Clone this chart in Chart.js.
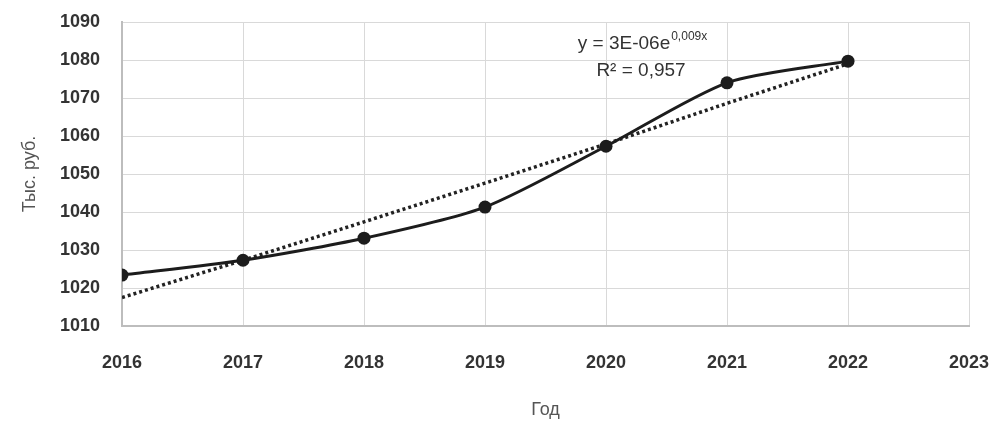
<!DOCTYPE html>
<html>
<head>
<meta charset="utf-8">
<script src="https://cdn.jsdelivr.net/npm/chart.js@4"></script>
<style>
  html, body { margin: 0; padding: 0; background: #fff; }
  #wrap { width: 991px; height: 421px; }
</style>
</head>
<body>
<div id="wrap"><canvas id="chart"></canvas></div>
<script>
// Years and values
const years = [2016, 2017, 2018, 2019, 2020, 2021, 2022];
const values = [1023.4, 1027.3, 1033.1, 1041.3, 1057.3, 1074, 1079.7];
// Dotted trend line, read at each year
const trendYears = [2016, 2017, 2018, 2019, 2020, 2021, 2022];
const trendValues = [1017.5, 1027.3, 1037.4, 1047.6, 1057.9, 1068.6, 1079];
const yTicks = [1010, 1020, 1030, 1040, 1050, 1060, 1070, 1080, 1090];
const eqMain = "y = 3E-06e";
const eqSup = "0,009x";
const r2Text = "R\u00b2 = 0,957";

const fontFamily = "'Liberation Sans', Arial, sans-serif";
const tickFont = { family: fontFamily, size: 18, weight: "bold" };

// Draws the trend line equation like the spreadsheet label
const equationLabel = {
  id: "equationLabel",
  afterDraw(chart) {
    const ctx = chart.ctx;
    ctx.save();
    ctx.fillStyle = "#333";
    ctx.textBaseline = "middle";
    ctx.font = "19px " + fontFamily;
    const mainW = ctx.measureText(eqMain).width;
    ctx.font = "12px " + fontFamily;
    const supW = ctx.measureText(eqSup).width;
    let x = 642 - (mainW + supW) / 2;
    ctx.font = "19px " + fontFamily;
    ctx.textAlign = "left";
    ctx.fillText(eqMain, x, 44);
    ctx.font = "12px " + fontFamily;
    ctx.fillText(eqSup, x + mainW + 1, 37);
    ctx.font = "19px " + fontFamily;
    ctx.textAlign = "center";
    ctx.fillText(r2Text, 641, 71);
    ctx.restore();
  }
};

// Drop the automatic label padding so the plot area lands where it should
const noAutoPadding = scale => {
  scale.paddingLeft = 0;
  scale.paddingRight = 0;
  scale.paddingTop = 0;
  scale.paddingBottom = 0;
};

new Chart(document.getElementById("chart"), {
  type: "line",
  data: {
    datasets: [
      {
        label: "Тыс. руб.",
        data: years.map((y, i) => ({ x: y, y: values[i] })),
        borderColor: "#1c1c1c",
        backgroundColor: "#1c1c1c",
        borderWidth: 3,
        pointRadius: 6.5,
        pointBorderWidth: 0,
        tension: 0.25
      },
      {
        label: "Тренд",
        data: trendYears.map((y, i) => ({ x: y, y: trendValues[i] })),
        borderColor: "#222",
        borderWidth: 3.5,
        borderDash: [3, 3],
        pointRadius: 0,
        tension: 0
      }
    ]
  },
  options: {
    responsive: true,
    maintainAspectRatio: false,
    animation: false,
    layout: { padding: { top: 22, right: 22, left: 0, bottom: 0 } },
    plugins: { legend: { display: false }, tooltip: { enabled: false } },
    scales: {
      x: {
        type: "linear",
        min: 2016,
        max: 2023,
        ticks: {
          stepSize: 1,
          padding: 26,
          color: "#333",
          font: tickFont,
          callback: v => String(v)
        },
        grid: { color: "#d9d9d9", drawTicks: false, lineWidth: 1 },
        border: { color: "#bdbdbd", width: 2 },
        title: {
          display: true,
          text: "Год",
          color: "#555",
          font: { family: fontFamily, size: 18 },
          padding: { top: 0, bottom: 0 }
        },
        afterFit: scale => { scale.height = 95; noAutoPadding(scale); }
      },
      y: {
        min: 1010,
        max: 1090,
        afterBuildTicks: scale => { scale.ticks = yTicks.map(v => ({ value: v })); },
        ticks: {
          padding: 22,
          color: "#333",
          font: tickFont,
          callback: v => String(v)
        },
        grid: { color: "#d9d9d9", drawTicks: false, lineWidth: 1 },
        border: { color: "#bdbdbd", width: 2 },
        title: {
          display: true,
          text: "Тыс. руб.",
          color: "#555",
          font: { family: fontFamily, size: 18 },
          padding: { top: 19, bottom: 0 }
        },
        afterFit: scale => { scale.width = 122; noAutoPadding(scale); }
      }
    }
  },
  plugins: [equationLabel]
});
</script>
</body>
</html>
